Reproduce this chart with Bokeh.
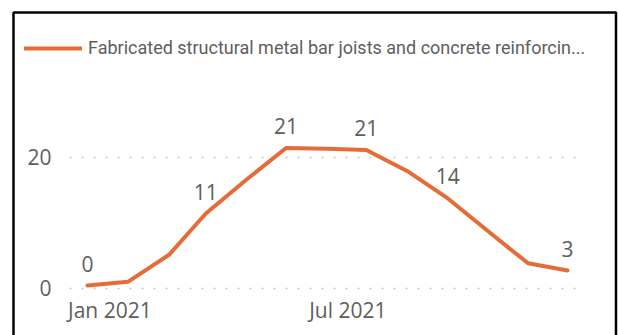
import pandas as pd
from bokeh.plotting import figure
from bokeh.models import (Range1d, SingleIntervalTicker, MonthsTicker, DatetimeTickFormatter,
                          Legend, LegendItem, BoxAnnotation, ColumnDataSource, LinearAxis,
                          DatetimeAxis, Grid)
from bokeh.core.properties import value
from bokeh.embed import file_html
from bokeh.resources import INLINE

# ---- data ----
months = ["2020-12", "2021-01", "2021-02", "2021-03", "2021-04", "2021-05", "2021-06",
          "2021-07", "2021-08", "2021-09", "2021-10", "2021-11", "2021-12"]
values = [0.4, 1.0, 5.1, 11.4, 16.6, 21.4, 21.3, 21.1, 17.9, 13.7, 8.8, 3.8, 2.7]
labeled_months = ["2020-12", "2021-03", "2021-05", "2021-07", "2021-09", "2021-12"]
series_name = "Fabricated structural metal bar joists and concrete reinforcin..."

dates = [pd.Timestamp(m + "-15") for m in months]
src = ColumnDataSource(dict(x=dates, y=values))
lab_x = [pd.Timestamp(m + "-15") for m in labeled_months]
lab_y = [values[months.index(m)] for m in labeled_months]
lab_src = ColumnDataSource(dict(x=lab_x, y=lab_y, t=[str(int(round(v))) for v in lab_y]))

TXT = "#605E5C"
ORANGE = "#E66C37"
W, H = 618, 335

# ---- layout geometry (pixels) ----
x_first_px, x_last_px = 87.0, 567.0
y0_px, y20_px = 287.7, 156.7
span_days = (dates[-1] - dates[0]).days
day_px = (x_last_px - x_first_px) / span_days
def px_to_date(px):
    return dates[0] + pd.Timedelta(days=(px - x_first_px) / day_px)
def px_to_ms(px):
    return px_to_date(px).timestamp() * 1000.0
unit_px = (y0_px - y20_px) / 20.0
y_top = y0_px / unit_px
y_bot = -(H - y0_px) / unit_px

p = figure(width=W, height=H, output_backend="svg", toolbar_location=None,
           x_axis_type=None, y_axis_type=None,
           x_range=Range1d(px_to_ms(0), px_to_ms(W)),
           y_range=Range1d(y_bot, y_top),
           min_border=0)
p.outline_line_color = None
p.background_fill_color = "white"
p.border_fill_color = "white"

plot_ytop = (y0_px - 80) / unit_px

yticker = SingleIntervalTicker(interval=20, num_minor_ticks=0)
xticker = MonthsTicker(months=[0, 6])

yaxis = LinearAxis(ticker=yticker, fixed_location=px_to_ms(67), bounds=(0, plot_ytop))
xaxis = DatetimeAxis(ticker=xticker, fixed_location=0,
                     formatter=DatetimeTickFormatter(months="%b %Y", days="%b %Y"),
                     bounds=(px_to_ms(67), px_to_ms(587)))
for ax in (xaxis, yaxis):
    ax.axis_line_color = None
    ax.major_tick_line_color = None
    ax.minor_tick_line_color = None
    ax.major_label_text_font = "Open Sans"
    ax.major_label_text_font_size = "21px"
    ax.major_label_text_color = TXT
yaxis.major_label_standoff = 10
xaxis.major_label_standoff = 2
p.add_layout(yaxis, "left")
p.add_layout(xaxis, "below")

ygrid = Grid(dimension=1, ticker=yticker, bounds=(0, plot_ytop),
             grid_line_color="#C8C6C4", grid_line_dash="2 10", grid_line_width=1.5)
ygrid.cross_bounds = (px_to_ms(69), px_to_ms(584))
p.add_layout(ygrid)

r = p.line(x="x", y="y", source=src, line_color=ORANGE, line_width=4, line_cap="round")
p.text(x="x", y="y", text="t", source=lab_src, text_font=value("Open Sans"),
       text_font_size="21px", text_color=TXT, text_align="center",
       text_baseline="middle", y_offset=-22)

legend = Legend(items=[LegendItem(label=value(series_name), renderers=[r])],
                location=(24, H - 58), glyph_width=58, glyph_height=20, label_standoff=6,
                padding=0, margin=0, border_line_color=None, background_fill_alpha=0,
                label_text_font="Roboto", label_text_font_size="18px",
                label_text_color=TXT, label_height=20)
p.add_layout(legend)

frame = BoxAnnotation(left=13, right=615.5, top=12, bottom=H + 20,
                      left_units="canvas", right_units="canvas",
                      top_units="canvas", bottom_units="canvas",
                      fill_color=None, fill_alpha=0, line_color="black", line_alpha=1.0,
                      line_width=2.5)
p.add_layout(frame)

open("out.html", "w").write(file_html(p, INLINE))
